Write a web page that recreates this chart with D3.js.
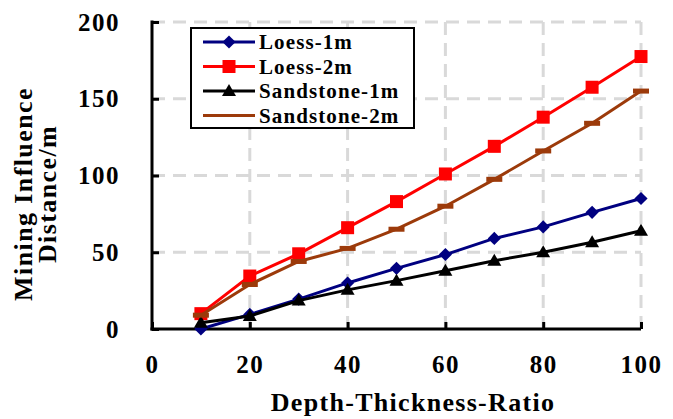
<!DOCTYPE html>
<html>
<head>
<meta charset="utf-8">
<script src="https://cdn.jsdelivr.net/npm/d3@7"></script>
<style>
  body { margin: 0; background: #fff; }
  svg { display: block; font-family: "Liberation Serif", "Times New Roman", serif; font-weight: bold; }
</style>
</head>
<body>
<svg id="chart" width="673" height="419"></svg>
<script>
// chart data
const ratios = [10, 20, 30, 40, 50, 60, 70, 80, 90, 100];
const loess1m = [0, 9.5, 19.5, 30, 39.5, 48.5, 59, 66.5, 76, 85];
const loess2m = [10, 34.5, 49, 66, 83, 101, 119, 138, 157.5, 177.5];
const sandstone1m = [4, 8.5, 18.5, 25.5, 31.5, 38, 44.5, 50, 56.5, 64];
const sandstone2m = [9, 29, 44, 52.5, 65, 80, 97.5, 116, 134, 155];
const xTicks = [0, 20, 40, 60, 80, 100];
const yTicks = [0, 50, 100, 150, 200];

const series = [
    { name: "Loess-1m", values: loess1m, colour: "#000080", marker: "diamond" },
    { name: "Loess-2m", values: loess2m, colour: "#ff0000", marker: "square" },
    { name: "Sandstone-1m", values: sandstone1m, colour: "#000000", marker: "triangle" },
    { name: "Sandstone-2m", values: sandstone2m, colour: "#9c3a0a", marker: "dash" },
];

const svg = d3.select("#chart");
const margin = { top: 22, right: 32, bottom: 90, left: 152 },
    width = 641 - margin.left,
    height = 329 - margin.top;

const x = d3.scaleLinear().domain([0, 100]).range([0, width]);
const y = d3.scaleLinear().domain([0, 200]).range([height, 0]);

const g = svg.append("g")
    .attr("transform", "translate(" + margin.left + "," + margin.top + ")");

// dashed grid
g.append("g")
    .selectAll("line")
    .data(xTicks.filter(d => d > 0))
    .enter()
    .append("line")
    .attr("x1", d => x(d)).attr("x2", d => x(d))
    .attr("y1", 0).attr("y2", height)
    .attr("stroke", "#d9d9d9")
    .attr("stroke-width", 3)
    .attr("stroke-dasharray", "13,8");

g.append("g")
    .selectAll("line")
    .data(yTicks.filter(d => d > 0))
    .enter()
    .append("line")
    .attr("x1", 0).attr("x2", width)
    .attr("y1", d => y(d)).attr("y2", d => y(d))
    .attr("stroke", "#d9d9d9")
    .attr("stroke-width", 3)
    .attr("stroke-dasharray", "13,8");

// axes, ticks pointing inwards
const xAxis = g.append("g")
    .attr("transform", "translate(0," + height + ")")
    .call(d3.axisBottom(x).tickValues(xTicks).tickSize(-7).tickSizeOuter(0).tickPadding(26));
const yAxis = g.append("g")
    .call(d3.axisLeft(y).tickValues(yTicks).tickSize(-7).tickSizeOuter(0).tickPadding(32));

[xAxis, yAxis].forEach(a => {
    a.select(".domain").attr("stroke", "#000").attr("stroke-width", 3);
    a.selectAll(".tick line").attr("stroke", "#000").attr("stroke-width", 3);
    a.selectAll(".tick text")
        .attr("fill", "#000")
        .style("font-family", "'Liberation Serif', serif")
        .style("font-weight", "bold")
        .style("font-size", "25px")
        .style("letter-spacing", "1.5px");
});
yAxis.select(".domain").attr("d", "M0," + (height + 1.5) + "V-1.5");
xAxis.select(".domain").attr("d", "M-1.5,0H" + width);

// series
const line = d3.line()
    .x((d, i) => x(ratios[i]))
    .y(d => y(d));

function drawMarker(sel, type, colour) {
    if (type === "diamond") {
        sel.append("path").attr("d", d3.symbol(d3.symbolDiamond2, 110)()).attr("fill", colour);
    } else if (type === "square") {
        sel.append("rect").attr("x", -6.5).attr("y", -6.5).attr("width", 13).attr("height", 13).attr("fill", colour);
    } else if (type === "triangle") {
        sel.append("path").attr("d", "M0,-7L7,5L-7,5Z").attr("fill", colour);
    } else if (type === "dash") {
        sel.append("rect").attr("x", -8).attr("y", -2.5).attr("width", 16).attr("height", 5).attr("fill", colour);
    }
}

series.forEach(s => {
    g.append("path")
        .datum(s.values)
        .attr("fill", "none")
        .attr("stroke", s.colour)
        .attr("stroke-width", 3)
        .attr("d", line);
    g.append("g")
        .selectAll("g")
        .data(s.values)
        .enter()
        .append("g")
        .attr("transform", (d, i) => "translate(" + x(ratios[i]) + "," + y(d) + ")")
        .each(function () { drawMarker(d3.select(this), s.marker, s.colour); });
});

// legend
const legend = svg.append("g").attr("transform", "translate(191,28)");
legend.append("rect")
    .attr("width", 223).attr("height", 100)
    .attr("fill", "#fff").attr("stroke", "#000").attr("stroke-width", 2);
series.forEach((s, i) => {
    const row = legend.append("g").attr("transform", "translate(0," + (14 + i * 24.5) + ")");
    row.append("line")
        .attr("x1", 12).attr("x2", 64)
        .attr("stroke", s.colour).attr("stroke-width", 3);
    if (s.marker !== "dash") {
        drawMarker(row.append("g").attr("transform", "translate(38,0)"), s.marker, s.colour);
    }
    row.append("text")
        .attr("x", 68).attr("y", 7)
        .style("font-size", "21px")
        .style("letter-spacing", "1.1px")
        .text(s.name);
});

// axis titles
svg.append("text")
    .attr("x", 413).attr("y", 411)
    .attr("text-anchor", "middle")
    .style("font-size", "26px")
    .style("letter-spacing", "1.3px")
    .text("Depth-Thickness-Ratio");

const yTitle = svg.append("text")
    .attr("transform", "translate(32,194) rotate(-90)")
    .attr("text-anchor", "middle")
    .style("font-size", "26px")
    .style("letter-spacing", "1.4px");
yTitle.append("tspan").attr("x", 0).attr("y", 0).text("Mining Influence");
yTitle.append("tspan").attr("x", 0).attr("y", 24).text("Distance/m");
</script>
</body>
</html>
